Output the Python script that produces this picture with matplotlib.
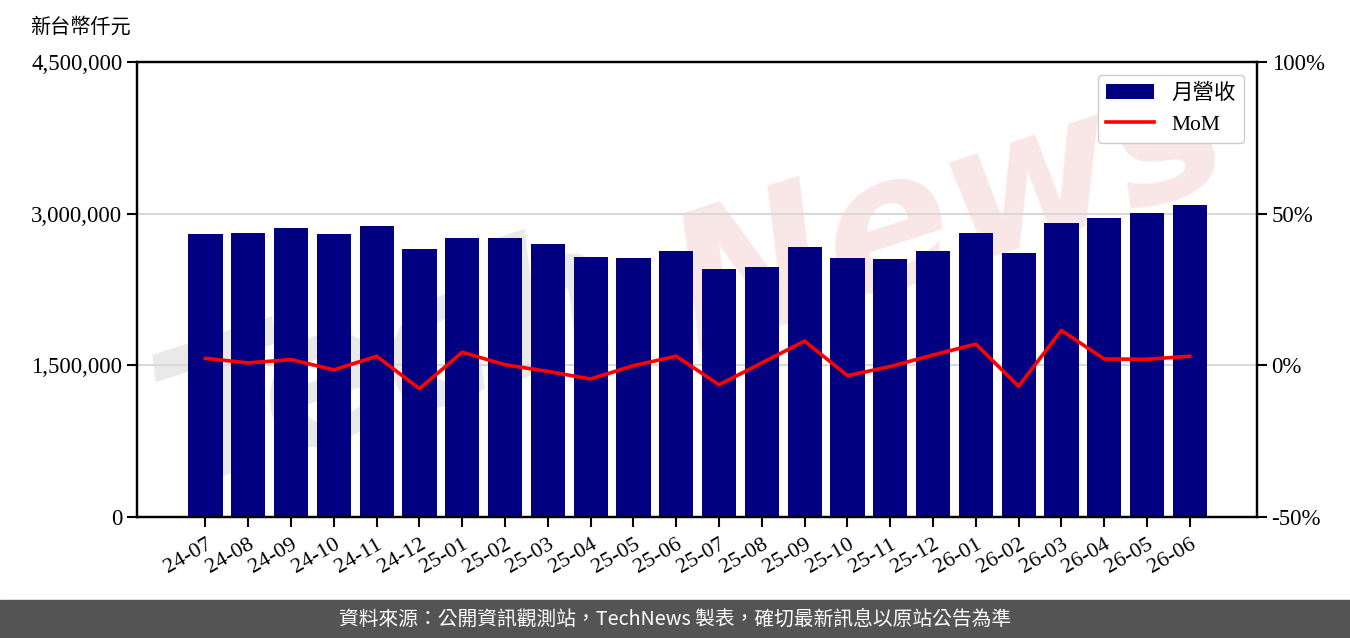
import matplotlib
matplotlib.use("Agg")
import matplotlib.pyplot as plt
from matplotlib.patches import Rectangle
from matplotlib.ticker import FuncFormatter, FixedLocator

plt.rcParams["font.family"] = ["Liberation Serif", "Noto Sans CJK TC"]

months = ["24-07", "24-08", "24-09", "24-10", "24-11", "24-12",
          "25-01", "25-02", "25-03", "25-04", "25-05", "25-06",
          "25-07", "25-08", "25-09", "25-10", "25-11", "25-12",
          "26-01", "26-02", "26-03", "26-04", "26-05", "26-06"]
revenue = [2802000, 2809000, 2858000, 2802000, 2881000, 2651000,
           2759000, 2759000, 2703000, 2571000, 2562000, 2631000,
           2453000, 2473000, 2670000, 2562000, 2552000, 2631000,
           2809000, 2611000, 2908000, 2957000, 3006000, 3086000]
mom = [2.3, 0.8, 1.9, -1.5, 3.0, -7.7,
       4.3, 0.2, -2.0, -4.5, -0.1, 3.0,
       -6.4, 0.8, 8.0, -3.4, -0.4, 3.4,
       7.0, -6.9, 11.5, 2.1, 2.0, 3.0]

left_ticks = [0, 1500000, 3000000, 4500000]
right_ticks = [-50, 0, 50, 100]

fig = plt.figure(figsize=(13.5, 6.38), dpi=100)
ax = fig.add_axes([137 / 1350, 1 - 517 / 638, 1120 / 1350, 455 / 638])
x = list(range(len(months)))

ax.bar(x, revenue, width=0.8, color="#000080", zorder=2, label="月營收")
ax.set_ylim(0, 4500000)
ax.set_xlim(-1.6, len(months) - 1 + 1.57)
ax.yaxis.set_major_locator(FixedLocator(left_ticks))
ax.yaxis.set_major_formatter(FuncFormatter(lambda v, p: f"{int(v):,}"))
ax.grid(axis="y", color="#d9d9d9", lw=1.5, zorder=1)
ax.set_xticks(x)
ax.set_xticklabels(months, rotation=30, ha="right", rotation_mode="anchor", fontsize=16)
ax.tick_params(axis="y", labelsize=16.5, length=7, width=1.5)
ax.tick_params(axis="x", length=7, width=1.5, pad=6)
for s in ax.spines.values():
    s.set_linewidth(1.6)

# watermark, sits under the grid and bars
ax.text(390 / 1350, 1 - 365 / 638, "Tech", transform=fig.transFigure, fontsize=135,
        fontstyle="italic", fontweight="bold", family="DejaVu Sans", color="#c8c8c8",
        alpha=0.4, rotation=18, ha="center", va="center", zorder=0.1)
ax.text(950 / 1350, 1 - 215 / 638, "News", transform=fig.transFigure, fontsize=135,
        fontstyle="italic", fontweight="bold", family="DejaVu Sans", color="#f2c4c4",
        alpha=0.4, rotation=18, ha="center", va="center", zorder=0.1)

ax2 = ax.twinx()
ax2.plot(x, mom, color="red", lw=2.6, label="MoM", zorder=4)
ax2.set_ylim(-50, 100)
ax2.yaxis.set_major_locator(FixedLocator(right_ticks))
ax2.yaxis.set_major_formatter(FuncFormatter(lambda v, p: f"{int(v)}%"))
ax2.tick_params(axis="y", labelsize=16.5, length=7, width=1.5)
for s in ax2.spines.values():
    s.set_linewidth(1.6)

h1, l1 = ax.get_legend_handles_labels()
h2, l2 = ax2.get_legend_handles_labels()
ax2.legend(h1 + h2, l1 + l2, loc="upper right", fontsize=15.5, handlelength=2.2,
           borderaxespad=0.6, framealpha=1)

fig.text(30 / 1350, 1 - 27 / 638, "新台幣仟元", fontsize=14.5, va="center", ha="left",
         family=["Noto Sans CJK TC"])

# footer band
fig.patches.append(Rectangle((0, 0), 1, 38 / 638, transform=fig.transFigure,
                             color="#545454", zorder=0))
fig.text(0.5, 19 / 638, "資料來源：公開資訊觀測站，TechNews 製表，確切最新訊息以原站公告為準",
         color="white", fontsize=14.2, ha="center", va="center",
         family=["Noto Sans CJK TC", "DejaVu Sans"])

fig.savefig("out.png", dpi=100)
